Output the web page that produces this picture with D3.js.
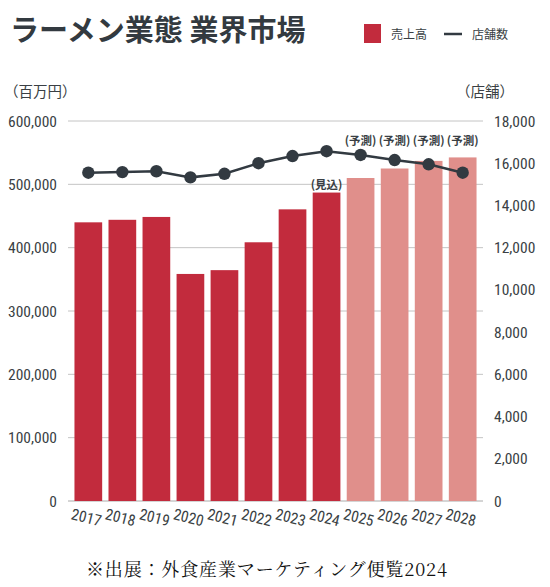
<!DOCTYPE html>
<html><head><meta charset="utf-8">
<script src="https://cdn.jsdelivr.net/npm/d3@7"></script>
<style>
body{margin:0;background:#fff;}
svg text{font-family:"Noto Sans CJK JP","Noto Sans",sans-serif;}
</style></head>
<body><svg id="c" width="550" height="587"></svg>
<script>
const years = ["2017","2018","2019","2020","2021","2022","2023","2024","2025","2026","2027","2028"];
const sales = [440000,444000,448500,358500,364500,408500,460500,487000,510000,525000,537000,542500];
const stores = [15550,15580,15620,15330,15500,16000,16340,16570,16390,16150,15950,15550];
const notes = ["","","","","","","","(見込)","(予測)","(予測)","(予測)","(予測)"];
const leftTicks = [0,100000,200000,300000,400000,500000,600000];
const rightTicks = [0,2000,4000,6000,8000,10000,12000,14000,16000,18000];

const svg = d3.select("#c");
const L=68,R=483,T=121,B=501;
const x = d3.scaleBand().domain(years).range([L,R]).paddingInner(0.186).paddingOuter(0.19);
const yL = d3.scaleLinear().domain([0,600000]).range([B,T]);
const yR = d3.scaleLinear().domain([0,18000]).range([B,T]);
const fmt = d3.format(",");
const numFont = "'Liberation Sans Narrow','Roboto Condensed','Roboto',sans-serif";

// grid
svg.append("g").selectAll("line").data(leftTicks).join("line")
 .attr("x1",L).attr("x2",R).attr("y1",d=>yL(d)).attr("y2",d=>yL(d))
 .attr("stroke",d=>d===0?"#aaa":"#c4c4c4").attr("stroke-width",1);

// axis labels
svg.append("g").selectAll("text").data(leftTicks).join("text")
 .attr("x",57).attr("y",d=>yL(d)+5.5).attr("text-anchor","end")
 .attr("font-size",15.5).attr("fill","#3a3f44")
 .style("font-family",numFont)
 .text(fmt);
svg.append("g").selectAll("text").data(rightTicks).join("text")
 .attr("x",494).attr("y",d=>yR(d)+5.5).attr("text-anchor","start")
 .attr("font-size",15.5).attr("fill","#3a3f44")
 .style("font-family",numFont)
 .text(fmt);

// bars
svg.append("g").selectAll("rect").data(years).join("rect")
 .attr("x",d=>x(d)).attr("width",x.bandwidth())
 .attr("y",(d,i)=>yL(sales[i])).attr("height",(d,i)=>B-yL(sales[i]))
 .attr("fill",(d,i)=>i>=8?"#e08f8b":"#c22b3d");

// line
const line = d3.line().x((d,i)=>x(years[i])+x.bandwidth()/2).y(d=>yR(d));
svg.append("path").datum(stores).attr("d",line).attr("fill","none").attr("stroke","#323a41").attr("stroke-width",2.5);
svg.append("g").selectAll("circle").data(stores).join("circle")
 .attr("cx",(d,i)=>x(years[i])+x.bandwidth()/2).attr("cy",d=>yR(d)).attr("r",6.2).attr("fill","#323a41");

// notes
svg.append("g").selectAll("text").data(years).join("text")
 .attr("x",d=>x(d)+x.bandwidth()/2)
 .attr("y",(d,i)=> i===7 ? yL(sales[i])-4 : 145)
 .attr("text-anchor","middle").attr("font-size",11.5).attr("font-weight","bold").attr("fill","#3a3f44")
 .text((d,i)=>notes[i]);

// x labels
svg.append("g").selectAll("text").data(years).join("text")
 .attr("transform",d=>`translate(${x(d)+x.bandwidth()/2-18},${B+18}) rotate(14)`)
 .attr("font-size",15.5).attr("fill","#3a3f44")
 .style("font-family",numFont)
 .text(d=>d);

// title
svg.append("text").attr("x",10).attr("y",41).attr("font-size",29).attr("font-weight","bold").attr("fill","#333a40")
 .text("ラーメン業態 業界市場");
// legend
svg.append("rect").attr("x",364).attr("y",24).attr("width",17).attr("height",19).attr("fill","#c22b3d");
svg.append("text").attr("x",391).attr("y",39).attr("font-size",12).attr("fill","#3a3f44").text("売上高");
svg.append("line").attr("x1",444).attr("x2",462).attr("y1",34).attr("y2",34).attr("stroke","#323a41").attr("stroke-width",2.5);
svg.append("text").attr("x",472).attr("y",39).attr("font-size",12).attr("fill","#3a3f44").text("店舗数");

// axis titles
svg.append("text").attr("x",4).attr("y",97).attr("font-size",14.5).attr("fill","#3a3f44").text("（百万円）");
svg.append("text").attr("x",514).attr("y",97).attr("text-anchor","end").attr("font-size",14.5).attr("fill","#3a3f44").text("（店舗）");

// source
svg.append("text").attr("x",86).attr("y",576).attr("font-size",18).attr("fill","#111")
 .attr("textLength",361).attr("lengthAdjust","spacing")
 .style("font-family","'Noto Serif CJK JP','Liberation Serif',serif")
 .text("※出展：外食産業マーケティング便覧2024");
</script></body></html>
